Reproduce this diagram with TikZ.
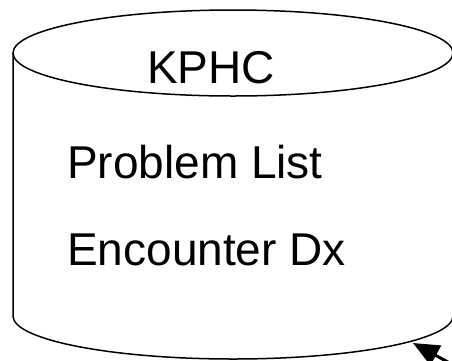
\documentclass[tikz,border=0pt]{standalone}
\usepackage{fontspec}
\setmainfont{Liberation Sans}
\usetikzlibrary{arrows.meta}
\begin{document}
\begin{tikzpicture}[x=1pt,y=-1pt,
  outline/.style={line width=1.5pt,black},
  label/.style={font=\fontsize{46}{50}\selectfont,anchor=base west,inner sep=0pt},
  link/.style={line width=3pt,-{Triangle[length=26pt,width=22pt]}}]
\useasboundingbox (0,0) rectangle (452,360);
\clip (0,0) rectangle (452,360);
% cylinder
\draw[outline] (233,53) ellipse [x radius=220, y radius=43];
\draw[outline] (13,53) -- (13,316) arc[start angle=180, end angle=360, x radius=220, y radius=-43] -- (453,53);
\node[label] (kphc) at (147,83) {KPHC};
\node[label] (pl) at (67,178) {Problem List};
\node[label] (edx) at (67,265) {Encounter Dx};
\coordinate (tail) at (490,385);
\coordinate (tip) at (413,343);
\draw[link] (tail) -- (tip);
\end{tikzpicture}
\end{document}
